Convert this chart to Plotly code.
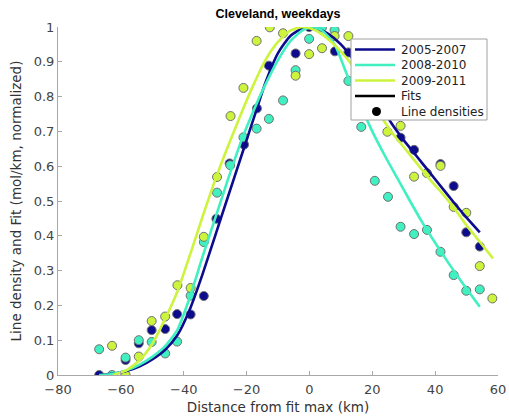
import plotly.graph_objects as go

# ---------------- data ----------------
series_names = ["2005-2007", "2008-2010", "2009-2011"]
series_colors = ["#0c0c8c", "#40f0c0", "#ccf43c"]

# line densities (points)
x_0507 = [-66.9, -58.5, -54.3, -50.2, -45.9, -42.1, -37.8, -33.6, -29.6, -25.4, -20.8, -16.7,
          -12.9, -4.4, -0.1, 8.1, 12.4, 16.5, 20.8, 29.0, 33.3, 41.7, 45.9, 49.9, 54.2]
y_0507 = [0.0, 0.043, 0.091, 0.129, 0.132, 0.175, 0.174, 0.227, 0.449, 0.608, 0.662, 0.766,
          0.889, 0.924, 1.0, 0.93, 0.927, 0.86, 0.80, 0.682, 0.647, 0.606, 0.543, 0.410, 0.369]

x_0810 = [-66.9, -62.8, -58.5, -54.3, -50.2, -45.9, -42.1, -37.8, -33.6, -29.4, -25.2, -21.0,
          -16.8, -12.9, -8.4, -4.4, -0.1, 4.0, 8.0, 12.4, 16.5, 20.8, 25.0, 29.0, 33.3, 37.4,
          41.7, 45.9, 49.9, 54.2]
y_0810 = [0.074, 0.0, 0.05, 0.10, 0.095, 0.062, 0.096, 0.228, 0.382, 0.524, 0.603, 0.683,
          0.708, 0.736, 0.789, 0.876, 0.966, 0.999, 0.991, 0.845, 0.713, 0.558, 0.512, 0.426,
          0.405, 0.417, 0.354, 0.287, 0.242, 0.246]

x_0911 = [-62.8, -58.5, -54.3, -50.2, -45.9, -42.0, -37.8, -33.6, -29.4, -25.1, -21.0, -16.8,
          -12.6, -8.4, -4.4, -0.1, 4.0, 8.0, 12.4, 16.5, 20.8, 24.8, 29.0, 33.3, 37.4, 41.7,
          45.9, 49.9, 54.2, 58.2]
y_0911 = [0.084, 0.0, 0.053, 0.155, 0.168, 0.258, 0.250, 0.397, 0.569, 0.744, 0.825, 0.960,
          0.999, 0.982, 0.860, 0.922, 0.939, 0.974, 0.974, 0.87, 0.78, 0.699, 0.716, 0.570,
          0.580, 0.601, 0.483, 0.466, 0.313, 0.220]

# fits
fx_0507 = [-66.9, -62, -58, -54, -50, -46, -42, -38, -34, -30, -26, -22, -18, -14, -10, -6, -2,
           2, 6, 10, 14, 18, 22, 26, 30, 34, 38, 42, 46, 50, 54.2]
fy_0507 = [0.0, 0.004, 0.012, 0.025, 0.045, 0.072, 0.115, 0.19, 0.29, 0.40, 0.51, 0.62, 0.73,
           0.84, 0.925, 0.975, 0.997, 0.997, 0.98, 0.95, 0.905, 0.845, 0.785, 0.725, 0.675,
           0.63, 0.585, 0.54, 0.495, 0.452, 0.41]

fx_0810 = [-66.9, -62.8, -58, -54, -50, -46, -42, -38, -34, -30, -26, -22, -18, -14, -10, -6,
           -2, 1, 4, 8, 12, 16, 20, 24, 28, 32, 36, 40, 44, 48, 54.2]
fy_0810 = [0.0, 0.003, 0.014, 0.03, 0.052, 0.082, 0.13, 0.225, 0.34, 0.45, 0.56, 0.665, 0.755,
           0.835, 0.905, 0.96, 0.992, 1.0, 0.99, 0.95, 0.862, 0.78, 0.70, 0.63, 0.565, 0.50,
           0.437, 0.38, 0.325, 0.273, 0.196]

fx_0911 = [-62.5, -58, -54, -50, -46, -42, -38, -34, -30, -26, -22, -18, -14, -10, -6, -2, 2,
           6, 10, 14, 18, 22, 26, 30, 34, 38, 42, 46, 50, 54, 58.4]
fy_0911 = [0.0, 0.015, 0.043, 0.09, 0.16, 0.24, 0.345, 0.455, 0.56, 0.655, 0.745, 0.83, 0.905,
           0.957, 0.99, 1.0, 0.99, 0.965, 0.93, 0.885, 0.82, 0.755, 0.70, 0.655, 0.61, 0.565,
           0.525, 0.48, 0.43, 0.385, 0.335]

x_ticks = [-80, -60, -40, -20, 0, 20, 40, 60]
y_ticks = [0, 0.1, 0.2, 0.3, 0.4, 0.5, 0.6, 0.7, 0.8, 0.9, 1]

title_text = "Cleveland, weekdays"
x_title = "Distance from fit max (km)"
y_title = "Line density and Fit (mol/km, normalized)"
legend_labels = series_names + ["Fits", "Line densities"]
legend_colors = series_colors + ["black", "black"]

points = [(x_0507, y_0507), (x_0810, y_0810), (x_0911, y_0911)]
fits = [(fx_0507, fy_0507), (fx_0810, fy_0810), (fx_0911, fy_0911)]

# ---------------- figure ----------------
W, H = 509, 417
ML, MR, MT, MB = 58, 11, 27, 42
PW, PH = W - ML - MR, H - MT - MB


def px2x(px):
    return (px - ML) / PW


def py2y(py):
    return (H - MB - py) / PH


fig = go.Figure()

for (px, py), col in zip(points, series_colors):
    fig.add_trace(go.Scatter(x=px, y=py, mode="markers", showlegend=False,
                             marker=dict(size=9, color=col, line=dict(color="#707070", width=1))))

for (fx, fy), col, name in zip(fits, series_colors, series_names):
    fig.add_trace(go.Scatter(x=fx, y=fy, mode="lines", name=name, showlegend=False,
                             line=dict(color=col, width=2.6, shape="spline", smoothing=0.6)))

# legend drawn as box + samples + text
shapes = [dict(type="rect", xref="paper", yref="paper", layer="above",
               x0=px2x(351), x1=px2x(487), y0=py2y(120), y1=py2y(39),
               fillcolor="white", line=dict(color="#a0a0a0", width=1))]
annotations = []
entry_y = [49.5, 65, 80.5, 96, 111.5]
for i, (lab, col) in enumerate(zip(legend_labels, legend_colors)):
    yy = py2y(entry_y[i])
    if i < 4:
        shapes.append(dict(type="line", xref="paper", yref="paper", layer="above",
                           x0=px2x(355), x1=px2x(395), y0=yy, y1=yy,
                           line=dict(color=col, width=2.6)))
    else:
        shapes.append(dict(type="circle", xref="paper", yref="paper", layer="above",
                           xsizemode="pixel", ysizemode="pixel",
                           xanchor=px2x(376.5), yanchor=yy,
                           x0=-4.5, x1=4.5, y0=-4.5, y1=4.5,
                           fillcolor=col, line=dict(color=col, width=0)))
    annotations.append(dict(text=lab, xref="paper", yref="paper", x=px2x(399), y=yy,
                            xanchor="left", yanchor="middle", showarrow=False,
                            font=dict(family="DejaVu Sans", size=12, color="#222222")))

axis_common = dict(showgrid=False, zeroline=False, showline=True, linecolor="#a8a8a8",
                   linewidth=1, ticks="inside", ticklen=4, tickcolor="#a8a8a8",
                   tickfont=dict(family="DejaVu Sans", size=13, color="#444444"),
                   mirror=False, automargin=False)

fig.update_xaxes(range=[-80, 60], tickvals=x_ticks, ticklabelstandoff=2, **axis_common,
                 title=dict(text=x_title, standoff=6,
                            font=dict(family="DejaVu Sans", size=13.5, color="#333333")))
fig.update_yaxes(range=[0, 1], tickvals=y_ticks, **axis_common,
                 title=dict(text=y_title, standoff=8,
                            font=dict(family="DejaVu Sans", size=13.5, color="#333333")))

fig.update_layout(
    width=W, height=H,
    margin=dict(l=ML, r=MR, t=MT, b=MB),
    plot_bgcolor="white", paper_bgcolor="white",
    showlegend=False,
    title=dict(text="<b>" + title_text + "</b>", x=278 / W, xanchor="center",
               y=1 - 14 / H, yanchor="middle",
               font=dict(family="Liberation Sans", size=12.5, color="black")),
    shapes=shapes,
    annotations=annotations,
)

fig.write_html("out.html")
